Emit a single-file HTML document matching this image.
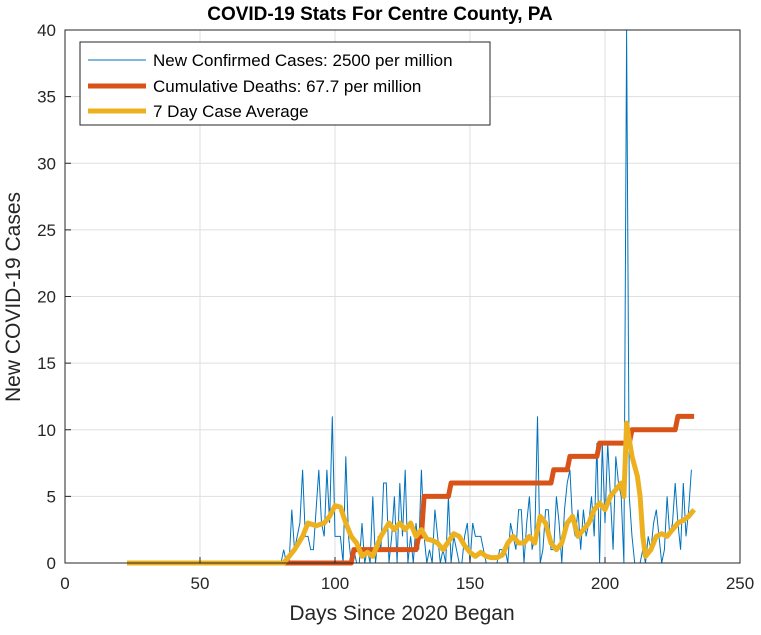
<!DOCTYPE html>
<html><head><meta charset="utf-8"><style>
body{margin:0;background:#fff;font-family:"Liberation Sans",Arial,sans-serif}
</style></head><body>
<svg id="c" width="761" height="630" viewBox="0 0 761 630">
<rect width="761" height="630" fill="#fff"/>
<g id="grid"></g>
<g id="series"></g>
<rect x="65" y="30" width="675" height="533" fill="none" stroke="#262626" stroke-width="1"/>
<g id="ticks"></g>
<text x="380" y="20" text-anchor="middle" font-size="19" font-weight="bold" fill="#000">COVID-19 Stats For Centre County, PA</text>
<text x="402" y="620" text-anchor="middle" font-size="21" fill="#262626">Days Since 2020 Began</text>
<text transform="translate(20,297) rotate(-90)" text-anchor="middle" font-size="21" fill="#262626">New COVID-19 Cases</text>
<g>
<rect x="80" y="42" width="410" height="83" fill="#fff" stroke="#262626" stroke-width="1"/>
<g><line x1="88" y1="60" x2="146" y2="60" stroke="#0072BD" stroke-width="1"/><text x="153" y="66" font-size="17" fill="#000">New Confirmed Cases: 2500 per million</text></g>
<g><line x1="88" y1="86" x2="146" y2="86" stroke="#D95319" stroke-width="5"/><text x="153" y="92" font-size="17" fill="#000">Cumulative Deaths: 67.7 per million</text></g>
<g><line x1="88" y1="111" x2="146" y2="111" stroke="#EDB120" stroke-width="5"/><text x="153" y="117" font-size="17" fill="#000">7 Day Case Average</text></g>
</g>
</svg>
<script>
const xTicks=[0,50,100,150,200,250];
const yTicks=[0,5,10,15,20,25,30,35,40];
const caseStartDay=24;
const dailyCases=[0,0,0,0,0,0,0,0,0,0,0,0,0,0,0,0,0,0,0,0,0,0,0,0,0,0,0,0,0,0,0,0,0,0,0,0,0,0,0,0,0,0,0,0,0,0,0,0,0,0,0,0,0,0,0,0,0,
1,0,0,4,1,2,3, 7,2,2,1,1,4,7, 3,2,7,3,11,2,2, 2,0,8,2,0,1,0, 0,3,0,1,0,5,0, 2,1,6,6,0,2,5, 0,6,2,7,0,2,0,
3,1,7,2,0,1,0, 4,2,0,1,0,5,0, 2,1,0,0,2,3,0, 3,2,2,2,1,0,0, 0,0,0,1,1,1,0, 3,2,1,4,4,0,3, 5,1,2,11,0,1,4,
4,1,1,5,3,0,4, 6,7,3,2,4,1,4, 2,3,5,2,9,0,9, 3,9,5,1,8,6,5, 0,42,5,2,0,0,0, 1,0,2,1,3,4,2, 0,1,5,2,3,6,3, 1,6,2,4,7];
const deathStartDay=23;
const deathChangeDays=[106,130,132,142,180,186,197,209,226];
const deathValues=[0,1,2,5,6,7,8,9,10,11];
const deathEndDay=233;
const avgDays=[23,81,85,88,90,93,96,98,100,102,104,106,108,110,112,114,117,120,122,124,126,128,130,132,134,136,138,140,142,144,146,148,150,152,154,156,158,160,162,164,166,168,170,172,174,176,178,180,182,184,186,188,190,192,194,196,198,200,202,204,206,207,208,210,212,213,214,215,217,219,221,223,225,227,229,231,233];
const avgValues=[0,0,1,2,3,2.8,3,3.5,4.3,4.2,3,2,1.5,0.5,0.8,0.5,2,3,2.5,3,2.5,3,2,2.5,1.8,1.7,1.5,1,1.6,2.2,2,1.3,0.8,0.5,0.8,0.5,0.4,0.4,0.6,1.5,2,1.5,1.5,2,1.5,3.5,3,1.5,1,1.5,3,3.5,2,2.5,3,4,4.5,4,5,5.5,6,5,10.5,8,6.5,5,2,0.5,1,2,2.2,2,2.5,3,3.2,3.5,4];

const X=d=>65+d*(675/250), Y=v=>Math.max(30,563-v*(533/40));
const NS='http://www.w3.org/2000/svg';
function mk(p,t,a){const e=document.createElementNS(NS,t);for(const k in a)e.setAttribute(k,a[k]);p.appendChild(e);return e;}
const grid=document.getElementById('grid'),ticks=document.getElementById('ticks'),ser=document.getElementById('series');
xTicks.forEach(t=>{
 const g=mk(grid,'line',{x1:X(t),x2:X(t),y1:30,y2:563,stroke:'#dfdfdf','stroke-width':1});
 
 
 mk(ticks,'line',{x1:X(t),x2:X(t),y1:563,y2:557,stroke:'#262626'});
 const l=mk(ticks,'text',{x:X(t),y:589,'text-anchor':'middle','font-size':17,fill:'#262626'});l.textContent=t;
 
 
});
yTicks.forEach(t=>{
 const g=mk(grid,'line',{x1:65,x2:740,y1:Y(t),y2:Y(t),stroke:'#dfdfdf','stroke-width':1});
 
 
 mk(ticks,'line',{x1:65,x2:71,y1:Y(t),y2:Y(t),stroke:'#262626'});
 const l=mk(ticks,'text',{x:56,y:Y(t)+6,'text-anchor':'end','font-size':17,fill:'#262626'});l.textContent=t;
 
 
});
const cp=mk(ser,'polyline',{points:dailyCases.map((v,i)=>X(caseStartDay+i)+','+Y(v)).join(' '),fill:'none',stroke:'#0072BD','stroke-width':1});


let dp=[X(deathStartDay)+','+Y(deathValues[0])];
deathChangeDays.forEach((d,i)=>{dp.push(X(d)+','+Y(deathValues[i]));dp.push(X(d+1)+','+Y(deathValues[i+1]));});
dp.push(X(deathEndDay)+','+Y(deathValues[deathValues.length-1]));
const dl=mk(ser,'polyline',{points:dp.join(' '),fill:'none',stroke:'#D95319','stroke-width':5,'stroke-linejoin':'round'});


const al=mk(ser,'polyline',{points:avgDays.map((d,i)=>X(d)+','+Y(avgValues[i])).join(' '),fill:'none',stroke:'#EDB120','stroke-width':5,'stroke-linejoin':'round'});


</script>
</body></html>
